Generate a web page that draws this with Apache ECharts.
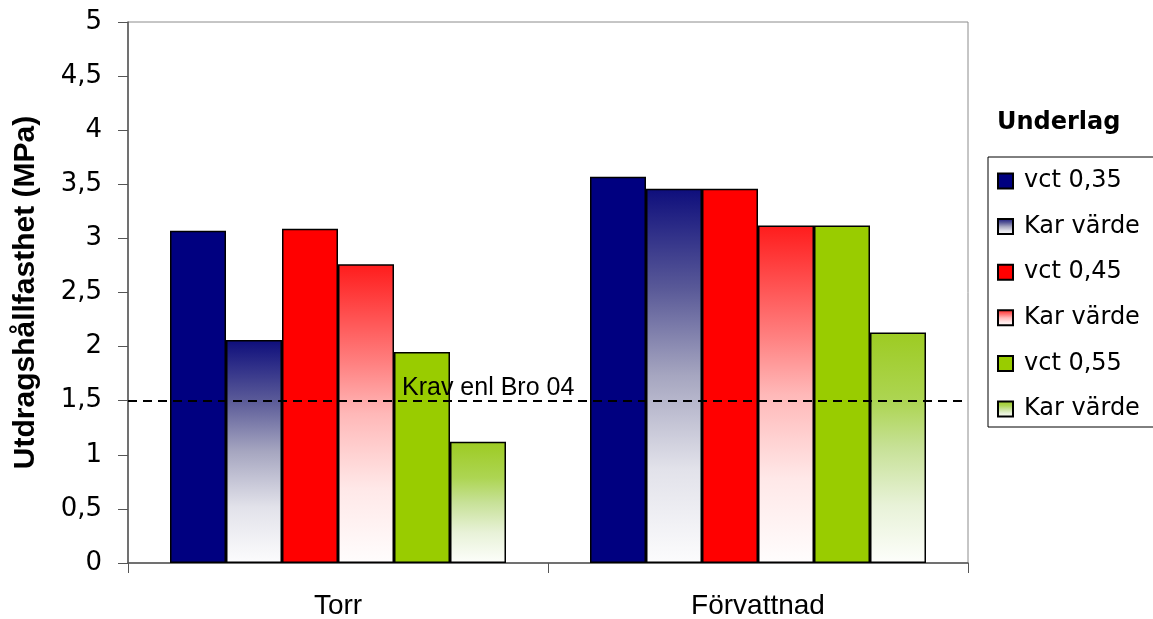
<!DOCTYPE html>
<html>
<head>
<meta charset="utf-8">
<script src="https://cdn.jsdelivr.net/npm/echarts@6/dist/echarts.min.js"></script>
<style>
  html, body { margin: 0; padding: 0; background: #fff; }
  #chart { width: 1153px; height: 619px; }
</style>
</head>
<body>
<div id="chart"></div>
<script>
// Category labels and measured strengths (MPa)
const categories = ['Torr', 'Förvattnad'];
const vct035 = [3.07, 3.57];
const kar035 = [2.06, 3.46];
const vct045 = [3.09, 3.46];
const kar045 = [2.76, 3.12];
const vct055 = [1.95, 3.12];
const kar055 = [1.12, 2.13];
const requirement = 1.5;
const requirementLabel = 'Krav enl Bro 04';

// Internal series keys and the text shown for each in the legend
const seriesKeys = ['vct035', 'kar035', 'vct045', 'kar045', 'vct055', 'kar055'];
const legendLabels = ['vct 0,35', 'Kar värde', 'vct 0,45', 'Kar värde', 'vct 0,55', 'Kar värde'];

// Vertical fade from the series colour at the top to white at the base
function fade(stops) {
  return {
    type: 'linear', x: 0, y: 0, x2: 0, y2: 1,
    colorStops: stops.map(s => ({ offset: s[0], color: s[1] }))
  };
}
const navyFade = fade([[0, '#0e0e7c'], [0.27, '#5a5a98'], [0.5, '#a6a6c0'], [0.75, '#e2e2ea'], [1, '#fcfcfd']]);
const redFade = fade([[0, '#ff1c1c'], [0.33, '#ff8080'], [0.5, '#ffb8b8'], [0.75, '#ffe8e8'], [1, '#fffdfd']]);
const greenFade = fade([[0, '#9dcb22'], [0.3, '#add553'], [0.5, '#c7e197'], [0.75, '#e8f2d8'], [1, '#fdfefb']]);

const fills = ['#000080', navyFade, '#ff0000', redFade, '#99cc00', greenFade];
const values = [vct035, kar035, vct045, kar045, vct055, kar055];

const series = values.map((v, i) => ({
  type: 'bar',
  name: seriesKeys[i],
  data: v,
  barGap: '0%',
  barCategoryGap: '20%',
  itemStyle: { color: fills[i], borderColor: '#000', borderWidth: 1.5 },
  emphasis: { disabled: true }
}));

// Requirement level drawn as a dashed line over the bars
series.push({
  type: 'line',
  name: 'krav',
  data: [],
  z: 5,
  markLine: {
    silent: true,
    symbol: 'none',
    lineStyle: { color: '#000', type: [9, 6], width: 2 },
    label: {
      show: true,
      position: 'insideStartTop',
      formatter: requirementLabel,
      color: '#000',
      fontFamily: 'Liberation Sans, Arial, sans-serif',
      fontSize: 25,
      padding: [0, 0, 0, 274],
      distance: 0
    },
    data: [{ yAxis: requirement }]
  }
});

const chart = echarts.init(document.getElementById('chart'), null, { renderer: 'canvas' });
chart.setOption({
  animation: false,
  backgroundColor: '#fff',
  title: {
    text: 'Underlag',
    left: 992,
    top: 106,
    textStyle: { fontFamily: 'DejaVu Sans, sans-serif', fontWeight: 'bold', fontSize: 24, color: '#000' }
  },
  legend: {
    data: seriesKeys,
    formatter: name => legendLabels[seriesKeys.indexOf(name)],
    orient: 'vertical',
    left: 988,
    top: 157,
    icon: 'rect',
    itemWidth: 15,
    itemHeight: 15,
    itemGap: 21.6,
    padding: [12, 14, 6, 9],
    borderColor: '#000',
    borderWidth: 1,
    selectedMode: false,
    textStyle: { fontFamily: 'DejaVu Sans, sans-serif', fontSize: 24, lineHeight: 24, color: '#000', padding: [0, 0, 0, 6] }
  },
  grid: {
    left: 128, right: 185, top: 22, bottom: 56,
    outerBoundsMode: 'none',
    containLabel: false,
    show: true, borderColor: '#8c8c8c', borderWidth: 1
  },
  xAxis: {
    type: 'category',
    data: categories,
    axisLine: { lineStyle: { color: '#555', width: 1.5 } },
    axisTick: { show: true, length: 10, lineStyle: { color: '#555' } },
    axisLabel: { margin: 29, color: '#000', fontFamily: 'Liberation Sans, Arial, sans-serif', fontSize: 28 }
  },
  yAxis: {
    type: 'value',
    min: 0, max: 5, interval: 0.5,
    name: 'Utdragshållfasthet (MPa)',
    nameLocation: 'middle',
    nameRotate: 90,
    nameGap: 87,
    nameTextStyle: { fontFamily: 'Liberation Sans, Arial, sans-serif', fontWeight: 'bold', fontSize: 30, color: '#000' },
    axisLine: { show: true, lineStyle: { color: '#555', width: 1.5 } },
    axisTick: { show: true, length: 10, lineStyle: { color: '#555' } },
    splitLine: { show: false },
    axisLabel: {
      margin: 26,
      color: '#000',
      fontFamily: 'DejaVu Sans, sans-serif',
      fontSize: 26,
      formatter: v => String(v).replace('.', ',')
    }
  },
  series: series
});
</script>
</body>
</html>
